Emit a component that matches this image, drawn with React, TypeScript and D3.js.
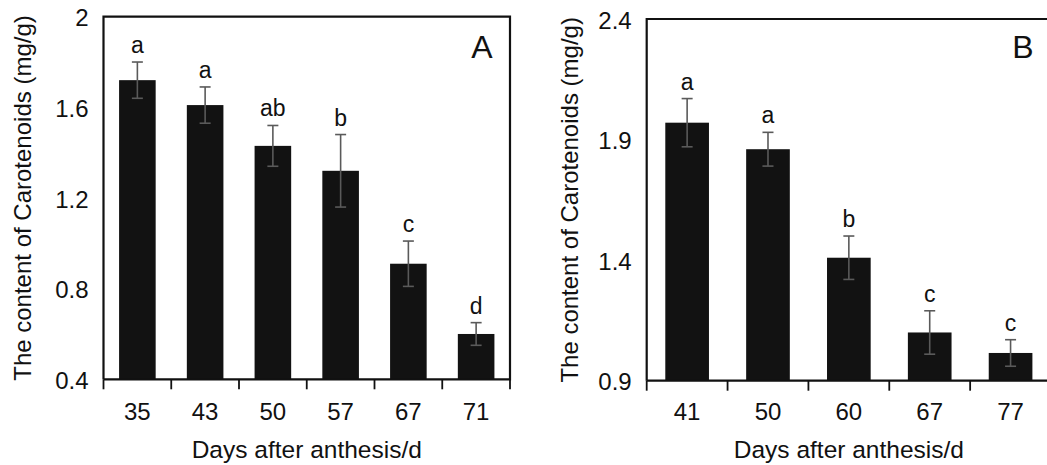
import * as d3 from "d3";

const daysA = ["35", "43", "50", "57", "67", "71"];
const meanA = [1.72, 1.61, 1.43, 1.32, 0.91, 0.6];
const errA = [0.08, 0.08, 0.09, 0.16, 0.1, 0.05];
const letterA = ["a", "a", "ab", "b", "c", "d"];
const ticksA = [0.4, 0.8, 1.2, 1.6, 2];
const tickLabelsA = ["0.4", "0.8", "1.2", "1.6", "2"];

const daysB = ["41", "50", "60", "67", "77"];
const meanB = [1.97, 1.86, 1.41, 1.1, 1.015];
const errB = [0.1, 0.07, 0.09, 0.09, 0.055];
const letterB = ["a", "a", "b", "c", "c"];
const ticksB = [0.9, 1.4, 1.9, 2.4];
const tickLabelsB = ["0.9", "1.4", "1.9", "2.4"];

const FONT = "'Liberation Sans', Arial, sans-serif";

type PanelProps = {
  left: number;
  right: number;
  top: number;
  bottom: number;
  days: string[];
  means: number[];
  errs: number[];
  letters: string[];
  ticks: number[];
  tickLabels: string[];
  tag: string;
  titleX: number;
};

const Panel = (p: PanelProps) => {
  const x = d3.scaleBand().domain(p.days).range([p.left, p.right]).paddingInner(0.46).paddingOuter(0.23);
  const y = d3.scaleLinear().domain([p.ticks[0], p.ticks[p.ticks.length - 1]]).range([p.bottom, p.top]);
  // boundaries between categories, where the x ticks sit
  const step = (p.right - p.left) / p.days.length;
  const bounds = d3.range(p.days.length + 1).map((i) => p.left + i * step);
  const midY = (p.top + p.bottom) / 2;

  return (
    <g fontFamily={FONT} fill="#111">
      {p.days.map((d, i) => {
        const cx = (x(d) as number) + x.bandwidth() / 2;
        const errTop = y(p.means[i] + p.errs[i]);
        const errBot = y(p.means[i] - p.errs[i]);
        return (
          <g key={d}>
            <rect x={x(d)} y={y(p.means[i])} width={x.bandwidth()} height={p.bottom - y(p.means[i])} fill="#121212" />
            <g stroke="#5a5a5a" strokeWidth={1.6}>
              <line x1={cx} x2={cx} y1={errTop} y2={errBot} />
              <line x1={cx - 5.5} x2={cx + 5.5} y1={errTop} y2={errTop} />
              <line x1={cx - 5.5} x2={cx + 5.5} y1={errBot} y2={errBot} />
            </g>
            <text x={cx} y={errTop - 9} textAnchor="middle" fontSize={23}>
              {p.letters[i]}
            </text>
            <text x={cx} y={411} textAnchor="middle" dominantBaseline="central" fontSize={24}>
              {d}
            </text>
          </g>
        );
      })}
      <path
        d={`M${p.left},${p.bottom}V${p.top}H${p.right}V${p.bottom}H${p.left}`}
        fill="none"
        stroke="#111"
        strokeWidth={2.2}
      />
      {bounds.map((b, i) => (
        <line key={i} x1={b} x2={b} y1={p.bottom} y2={p.bottom + 10} stroke="#111" strokeWidth={1.8} />
      ))}
      {p.ticks.map((t, i) => (
        <text key={t} x={p.left - 15} y={y(t) + 1} textAnchor="end" dominantBaseline="central" fontSize={24}>
          {p.tickLabels[i]}
        </text>
      ))}
      <text x={p.right - 28} y={58} textAnchor="middle" fontSize={32}>
        {p.tag}
      </text>
      <text
        transform={`translate(${p.titleX},${midY}) rotate(-90)`}
        textAnchor="middle"
        dominantBaseline="central"
        fontSize={24}
      >
        The content of Carotenoids (mg/g)
      </text>
      <text x={(p.left + p.right) / 2} y={449} textAnchor="middle" dominantBaseline="central" fontSize={24.5}>
        Days after anthesis/d
      </text>
    </g>
  );
};

export default function App() {
  return (
    <svg
      width={1047}
      height={465}
      style={{ position: "absolute", left: 0, top: 0, background: "#fff" }}
    >
      <rect width={1047} height={465} fill="#fff" />
      <Panel
        left={103.5}
        right={510}
        top={16.7}
        bottom={379.3}
        days={daysA}
        means={meanA}
        errs={errA}
        letters={letterA}
        ticks={ticksA}
        tickLabels={tickLabelsA}
        tag="A"
        titleX={22}
      />
      <Panel
        left={646.7}
        right={1051}
        top={19}
        bottom={380.7}
        days={daysB}
        means={meanB}
        errs={errB}
        letters={letterB}
        ticks={ticksB}
        tickLabels={tickLabelsB}
        tag="B"
        titleX={569}
      />
    </svg>
  );
}
